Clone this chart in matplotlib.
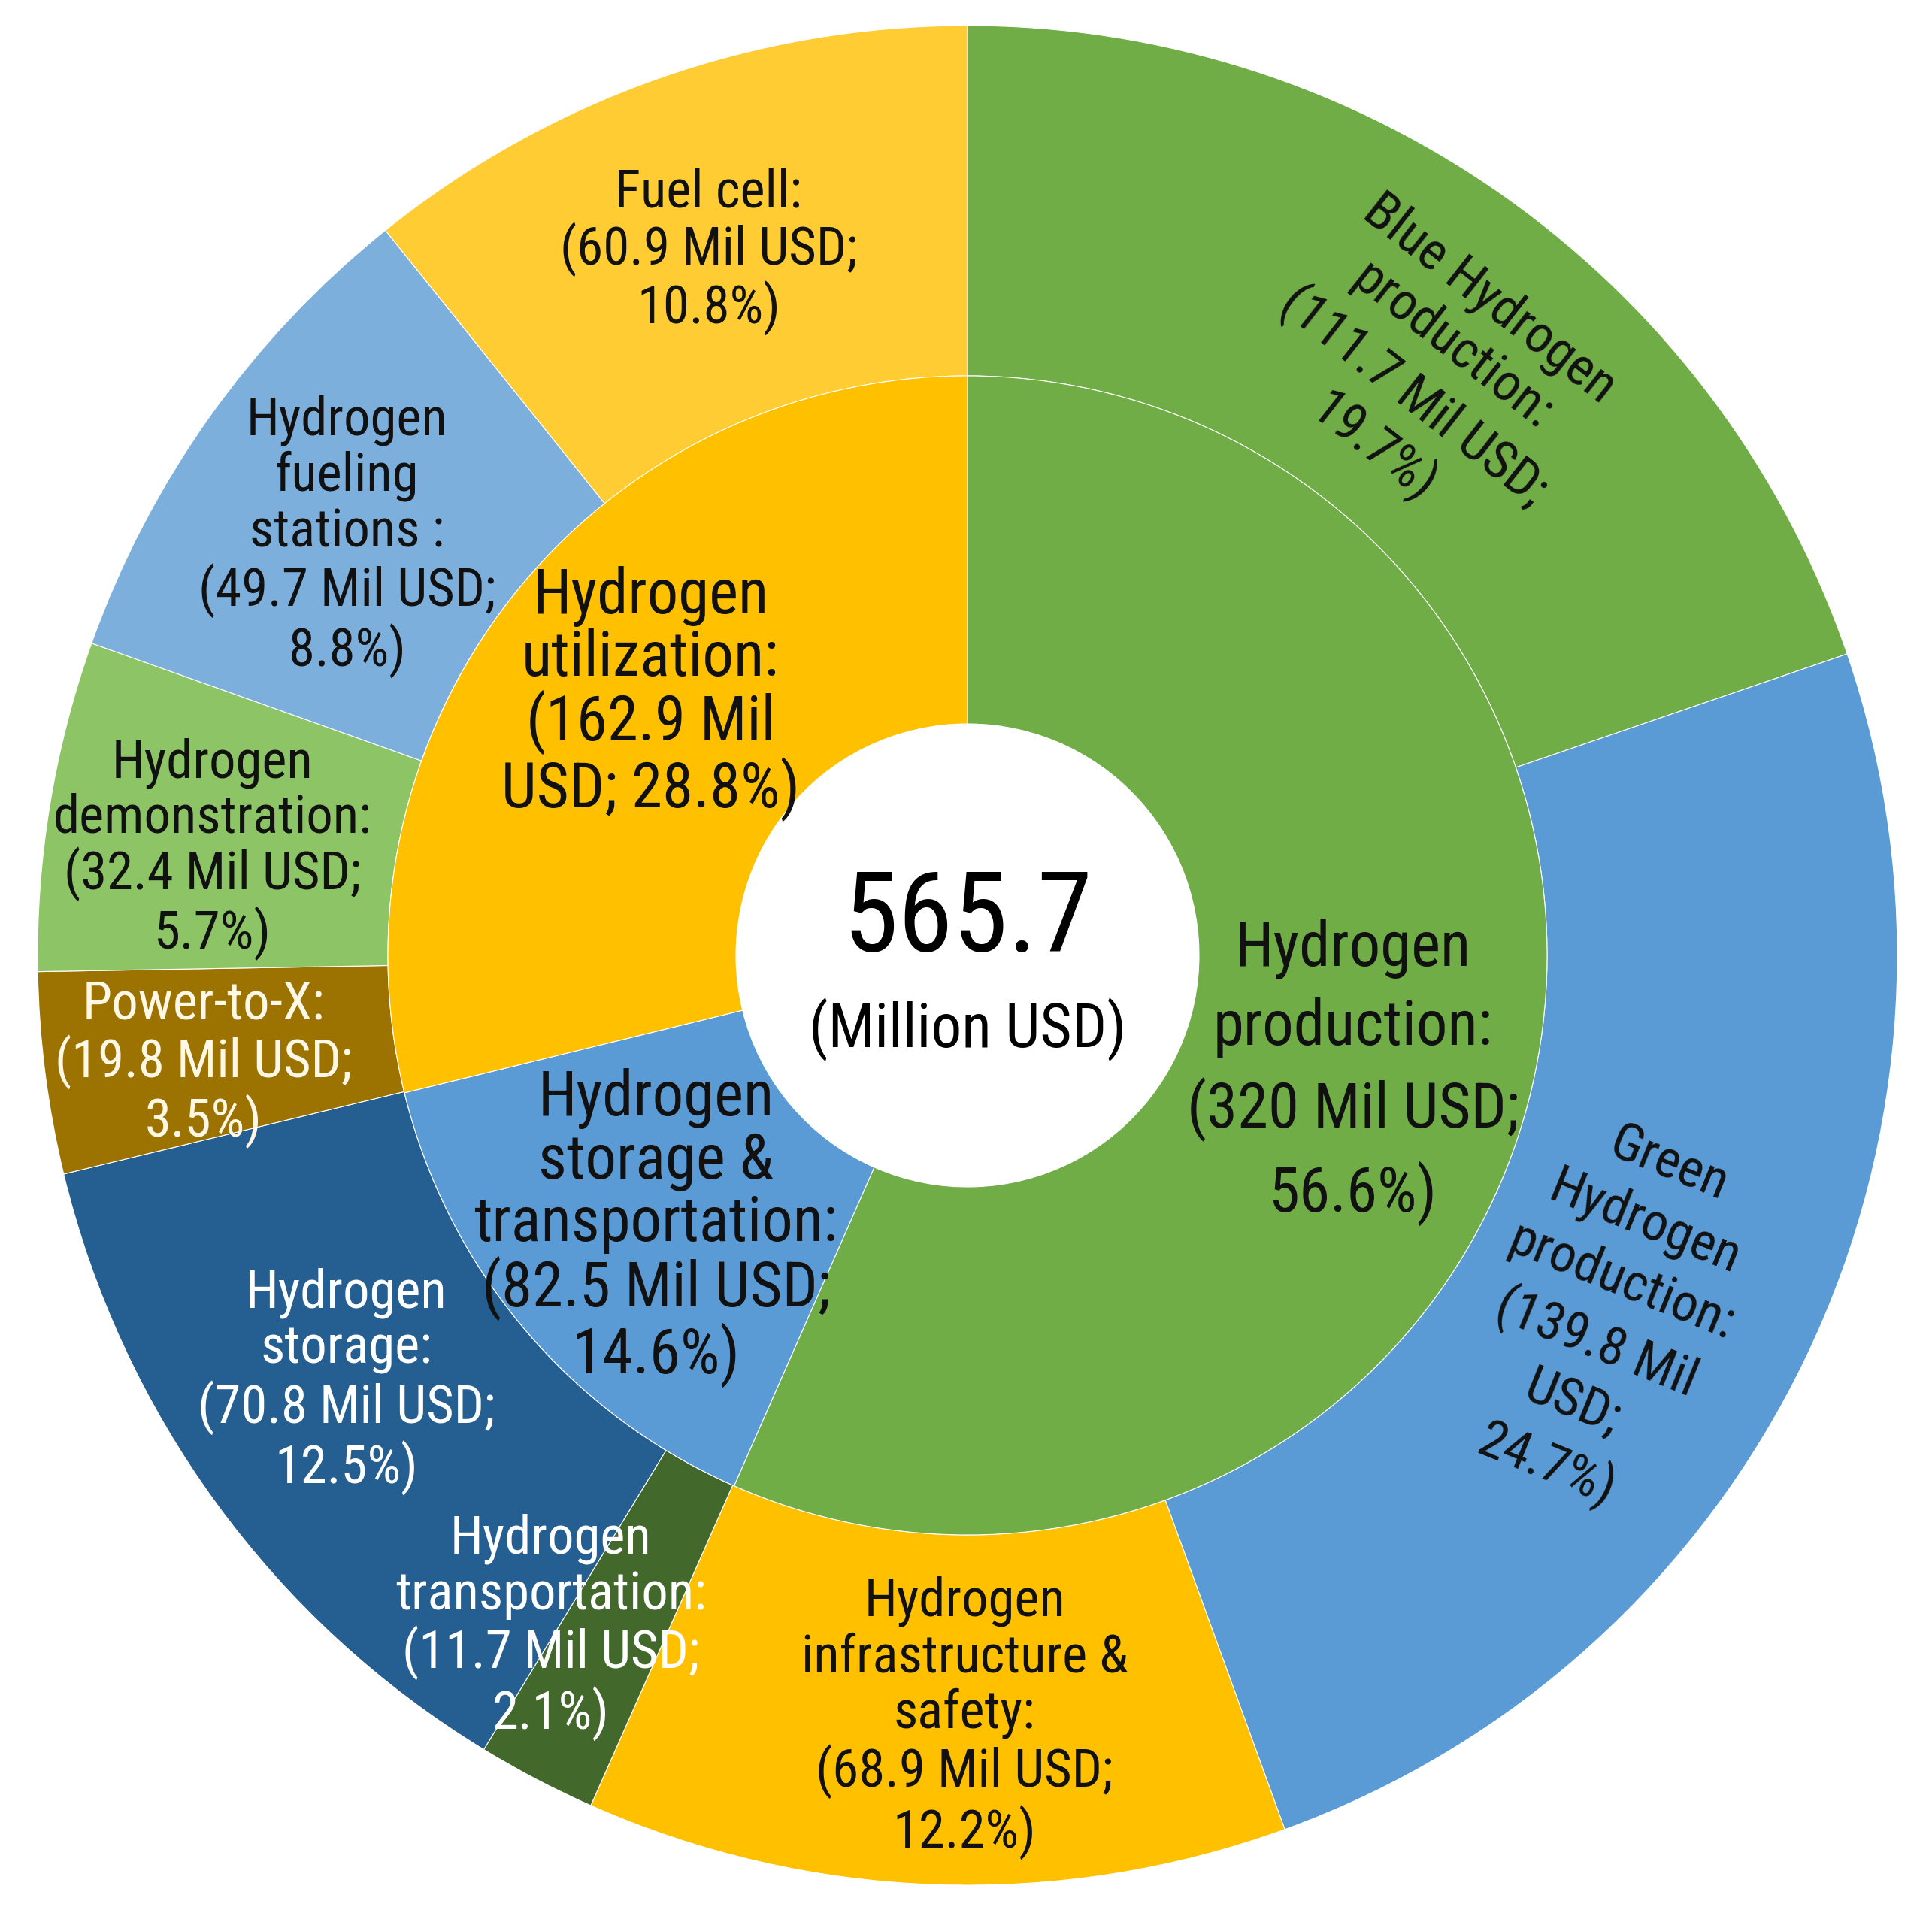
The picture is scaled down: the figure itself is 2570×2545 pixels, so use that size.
import numpy as np
import matplotlib
matplotlib.use("Agg")
import matplotlib.pyplot as plt
from matplotlib import font_manager
from matplotlib.font_manager import FontProperties

# ---------------- data ----------------
inner_values = [320.0, 82.5, 162.9]
inner_labels = ["Hydrogen\nproduction:\n(320 Mil USD;\n56.6%)",
                "Hydrogen\nstorage &\ntransportation:\n(82.5 Mil USD;\n14.6%)",
                "Hydrogen\nutilization:\n(162.9 Mil\nUSD; 28.8%)"]

outer_values = [111.7, 139.8, 68.9, 11.7, 70.8, 19.8, 32.4, 49.7, 60.9]
outer_labels = ["Blue Hydrogen\nproduction:\n(111.7 Mil USD;\n19.7%)",
                "Green\nHydrogen\nproduction:\n(139.8 Mil\nUSD;\n24.7%)",
                "Hydrogen\ninfrastructure &\nsafety:\n(68.9 Mil USD;\n12.2%)",
                "Hydrogen\ntransportation:\n(11.7 Mil USD;\n2.1%)",
                "Hydrogen\nstorage:\n(70.8 Mil USD;\n12.5%)",
                "Power-to-X:\n(19.8 Mil USD;\n3.5%)",
                "Hydrogen\ndemonstration:\n(32.4 Mil USD;\n5.7%)",
                "Hydrogen\nfueling\nstations :\n(49.7 Mil USD;\n8.8%)",
                "Fuel cell:\n(60.9 Mil USD;\n10.8%)"]

total_value = "565.7"
total_unit = "(Million USD)"

# ---------------- style ----------------
inner_colors = ["#70AD47", "#5B9BD5", "#FFC000"]
outer_colors = ["#70AD47", "#5B9BD5", "#FFC000", "#43682B", "#255E91",
                "#9C7300", "#8DC566", "#7DAFDD", "#FFCD33"]
dark = "#111111"
light = "#FFFFFF"
outer_text_colors = [dark, dark, dark, light, light, "#FFF8E6", dark, dark, dark]
inner_text_colors = [dark, dark, dark]

# label placement: (radius fraction of outer radius, angle offset in deg, rotation)
outer_place = [(0.80, -3.0, -38), (0.79, -3.8, -22), (0.82, 1.75, 0), (0.85, -4.2, 0),
               (0.81, -1.7, 0), (0.83, 0.8, 0), (0.82, 1.3, 0), (0.805, 1.4, 0), (0.807, 0.8, 0)]
outer_spacing_px = [80, 84, 74, 74, 74, 73, 72, 74, 72]
inner_place = [(0.433, -5.0), (0.445, 1.2), (0.442, -1.4)]
inner_spacing_px = [104, 83, 82]

# ---------------- font choice (narrow sans if available) ----------------
def pick_font():
    entries = font_manager.fontManager.ttflist
    prefs = [("Liberation Sans Narrow", 1.0), ("Arial Narrow", 1.0),
             ("Roboto Condensed", 0.98), ("Open Sans Condensed", 0.95),
             ("Noto Sans Condensed", 0.95)]
    for name, sc in prefs:
        for e in entries:
            if e.name == name and e.style == "normal" and e.weight in (400, "normal", "regular", "book"):
                return FontProperties(fname=e.fname), sc
    for e in entries:
        if e.name in ("DejaVu Sans", "Noto Sans", "Open Sans", "Roboto") and \
                str(e.stretch) in ("condensed", "semi-condensed", "extra-condensed") and \
                e.style == "normal" and e.weight in (400, "normal"):
            return FontProperties(fname=e.fname), 0.92
    return FontProperties(family="Liberation Sans"), 0.86

base_prop, fscale = pick_font()

W, H = 2570, 2545
fig = plt.figure(figsize=(W / 100, H / 100), dpi=100)
ax = fig.add_axes([0, 0, 1, 1])
renderer = fig.canvas.get_renderer()

def prop_of(size_pt):
    p = base_prop.copy()
    p.set_size(size_pt)
    return p

def spacing_for(prop, target_px):
    # matplotlib baseline step = (h - d) * linespacing + d for the "lp" metrics
    w, h, d = renderer.get_text_width_height_descent("lp", prop, ismath=False)
    return (target_px - d) / (h - d)

cx, cy = 1287, H - 1271
R = 1237
r_mid = 771
r_hole = 308

edge = dict(edgecolor="white", linewidth=0.8)
w_out, _ = ax.pie(outer_values, radius=R, center=(cx, cy), startangle=90,
                  counterclock=False, colors=outer_colors,
                  wedgeprops=dict(width=R - r_mid, **edge))
w_in, _ = ax.pie(inner_values, radius=r_mid, center=(cx, cy), startangle=90,
                 counterclock=False, colors=inner_colors,
                 wedgeprops=dict(width=r_mid - r_hole, **edge))

p_out = prop_of(52 * fscale)
for w, lab, col, (rf, da, rot), sp in zip(w_out, outer_labels, outer_text_colors,
                                          outer_place, outer_spacing_px):
    th = np.deg2rad((w.theta1 + w.theta2) / 2 + da)
    x = cx + rf * R * np.cos(th)
    y = cy + rf * R * np.sin(th)
    ax.text(x, y, lab, ha="center", va="center", multialignment="center",
            rotation=rot, rotation_mode="anchor", color=col,
            fontproperties=p_out, linespacing=spacing_for(p_out, sp))

p_in = prop_of(61 * fscale)
for w, lab, col, (rf, da), sp in zip(w_in, inner_labels, inner_text_colors, inner_place, inner_spacing_px):
    th = np.deg2rad((w.theta1 + w.theta2) / 2 + da)
    x = cx + rf * R * np.cos(th)
    y = cy + rf * R * np.sin(th)
    ax.text(x, y, lab, ha="center", va="center", multialignment="center",
            color=col, fontproperties=p_in, linespacing=spacing_for(p_in, sp))

ax.text(cx, cy + 0.037 * R, total_value, ha="center", va="center",
        color="black", fontproperties=prop_of(109 * fscale))
ax.text(cx, cy - 0.08 * R, total_unit, ha="center", va="center",
        color="black", fontproperties=prop_of(60 * fscale))

ax.set_xlim(0, W)
ax.set_ylim(0, H)
ax.set_aspect("equal")
ax.axis("off")
fig.savefig("out.png", dpi=100, facecolor="white")
